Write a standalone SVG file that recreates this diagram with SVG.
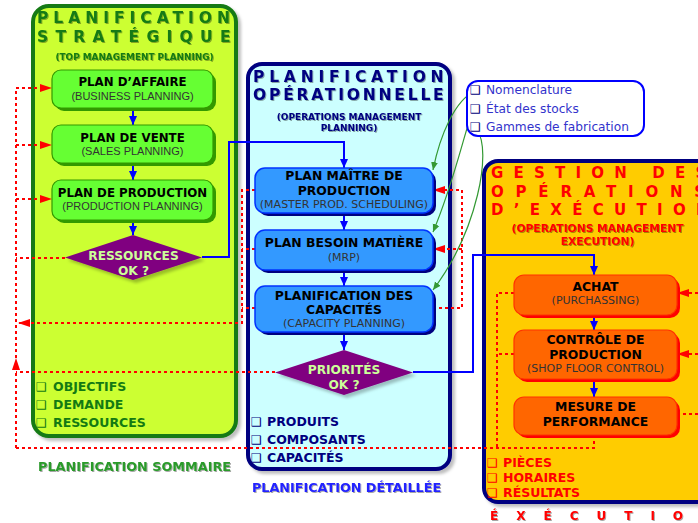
<svg xmlns="http://www.w3.org/2000/svg" width="698" height="523" viewBox="0 0 698 523">
<defs>
<style>
text{font-family:"DejaVu Sans",Verdana,sans-serif}
.b{font-weight:bold}
.t1{font-size:11.8px;font-weight:bold;fill:#000;text-anchor:middle}
.t2{font-size:12.4px;font-weight:bold;fill:#000;text-anchor:middle}
.s{font-size:11px;fill:#333;text-anchor:middle}
.sa{font-family:"Liberation Sans",Arial,sans-serif}
.gbox{fill:#66ff33;stroke:#339900;stroke-width:1.2}
.gsh{fill:#339900}
.bbox{fill:#3399ff;stroke:#0033ff;stroke-width:1.5}
.bsh{fill:#000080}
.obox{fill:#ff6600;stroke:#ff3300;stroke-width:1.2}
.osh{fill:#ff0000}
.dia{fill:#800080}
.dt{font-size:12.2px;font-weight:bold;fill:#ccff99;text-anchor:middle}
.blue{fill:none;stroke:#0000ff;stroke-width:2}
.red{fill:none;stroke:#ff0000;stroke-width:2;stroke-dasharray:3 3}
.grn{fill:none;stroke:#339933;stroke-width:1.2}
.bul{font-size:12.5px;font-weight:bold}
.ck{font-size:12px;font-weight:normal}
</style>
<filter id="psh" x="-5%" y="-5%" width="115%" height="115%"><feDropShadow dx="3" dy="3" stdDeviation="1.5" flood-color="#000" flood-opacity="0.25"/></filter>
<filter id="tsh" x="-5%" y="-20%" width="110%" height="150%"><feDropShadow dx="1" dy="1" stdDeviation="0.7" flood-color="#000" flood-opacity="0.35"/></filter>
<marker id="ab" markerUnits="userSpaceOnUse" markerWidth="10" markerHeight="10" refX="9" refY="5" orient="auto"><path d="M0,1 L9,5 L0,9 z" fill="#0000ff"/></marker>
<marker id="ar" markerUnits="userSpaceOnUse" markerWidth="13" markerHeight="10" refX="12" refY="5" orient="auto"><path d="M0,1 L12,5 L0,9 z" fill="#ff0000"/></marker>
<marker id="ag" markerUnits="userSpaceOnUse" markerWidth="9" markerHeight="8" refX="8" refY="4" orient="auto"><path d="M0,0.5 L8,4 L0,7.5 z" fill="#339933"/></marker>
</defs>
<rect width="698" height="523" fill="#ffffff"/>

<g id="panel-strategique">
<rect x="33" y="6" width="203" height="430" rx="16" fill="#ccff33" stroke="#137a13" stroke-width="4" filter="url(#psh)"/>
<g filter="url(#tsh)" class="b" fill="#137a13">
<text x="37" y="23" font-size="15.5" letter-spacing="5">PLANIFICATION</text>
<text x="37" y="42" font-size="15.5" letter-spacing="7.3">STRATÉGIQUE</text>
<text x="134.5" y="60" font-size="8.9" text-anchor="middle">(TOP MANAGEMENT PLANNING)</text>
</g>
<g class="bul" fill="#137a13">
<text x="36" y="391"><tspan class="ck">❑</tspan><tspan x="53">OBJECTIFS</tspan></text>
<text x="36" y="409"><tspan class="ck">❑</tspan><tspan x="53">DEMANDE</tspan></text>
<text x="36" y="427"><tspan class="ck">❑</tspan><tspan x="53">RESSOURCES</tspan></text>
</g>
</g>

<g id="panel-operationnelle">
<rect x="248" y="64" width="202" height="405" rx="14" fill="#ccffff" stroke="#000080" stroke-width="4" filter="url(#psh)"/>
<g filter="url(#tsh)" class="b" fill="#000080">
<text x="253" y="82" font-size="15.5" letter-spacing="4.8">PLANIFICATION</text>
<text x="253" y="100" font-size="15.5" letter-spacing="2.8">OPÉRATIONNELLE</text>
<text x="349" y="119.5" font-size="9" text-anchor="middle">(OPERATIONS MANAGEMENT</text>
<text x="349" y="130.5" font-size="9" text-anchor="middle">PLANNING)</text>
</g>
<g class="bul" fill="#000080">
<text x="251" y="426"><tspan class="ck">❑</tspan><tspan x="267">PRODUITS</tspan></text>
<text x="251" y="444"><tspan class="ck">❑</tspan><tspan x="267">COMPOSANTS</tspan></text>
<text x="251" y="462"><tspan class="ck">❑</tspan><tspan x="267">CAPACITÉS</tspan></text>
</g>
</g>

<g id="panel-execution">
<rect x="484" y="161" width="240" height="341" rx="14" fill="#ffcc00" stroke="#000080" stroke-width="4" filter="url(#psh)"/>
<g class="b" fill="#ff0000" font-size="15">
<text x="491" y="178" letter-spacing="10.2">GESTION DES</text>
<text x="491" y="197" letter-spacing="11.8">OPÉRATIONS</text>
<text x="491" y="215" letter-spacing="10.3">D’EXÉCUTION</text>
</g>
<g class="b" fill="#ff0000" filter="url(#tsh)">
<text x="597.5" y="232" font-size="10.7" text-anchor="middle">(OPERATIONS MANAGEMENT</text>
<text x="597.5" y="244.5" font-size="10.7" text-anchor="middle">EXECUTION)</text>
</g>
<g class="bul" fill="#ff0000">
<text x="487" y="467"><tspan class="ck">❑</tspan><tspan x="503">PIÈCES</tspan></text>
<text x="487" y="482"><tspan class="ck">❑</tspan><tspan x="503">HORAIRES</tspan></text>
<text x="487" y="496.5"><tspan class="ck">❑</tspan><tspan x="503">RÉSULTATS</tspan></text>
</g>
</g>

<g id="connectors">
<path class="red" d="M16,448 V358" marker-end="url(#ar)"/>
<path class="red" d="M16,358 V88"/>
<path class="red" d="M16,88 H52" marker-end="url(#ar)"/>
<path class="red" d="M16,145 H52" marker-end="url(#ar)"/>
<path class="red" d="M16,199 H52" marker-end="url(#ar)"/>
<path class="red" d="M65,258 H16"/>
<path class="red" d="M255,190 H242 V323 H18" marker-end="url(#ar)"/>
<path class="red" d="M255,249 H242"/>
<path class="red" d="M255,308 H242"/>
<path class="red" d="M275,372 H16"/>
<path class="red" d="M594,435 V448 H16"/>
<path class="red" d="M433,308 H462 V190 H433" marker-end="url(#ar)"/>
<path class="red" d="M462,249 H433" marker-end="url(#ar)"/>
<path class="red" d="M514,293 H497 V448"/>
<path class="red" d="M514,354 H497"/>
<path class="red" d="M698,293 H677" marker-end="url(#ar)"/>
<path class="red" d="M698,354 H677" marker-end="url(#ar)"/>
<path class="red" d="M677,414 H698"/>
<path class="blue" d="M202,257 H229 V142 H344 V168" marker-end="url(#ab)"/>
<path class="blue" d="M413,372 H473 V255 H594 V275" marker-end="url(#ab)"/>
<path class="blue" d="M133,108 V125" marker-end="url(#ab)"/>
<path class="blue" d="M133,163 V180" marker-end="url(#ab)"/>
<path class="blue" d="M133,220 V235" marker-end="url(#ab)"/>
<path class="blue" d="M344,213 V230" marker-end="url(#ab)"/>
<path class="blue" d="M344,270 V286" marker-end="url(#ab)"/>
<path class="blue" d="M344,332 V350" marker-end="url(#ab)"/>
<path class="blue" d="M594,315 V330" marker-end="url(#ab)"/>
<path class="blue" d="M594,379 V397" marker-end="url(#ab)"/>
<path class="grn" d="M475,91 C455,100 440,135 433,170" marker-end="url(#ag)"/>
<path class="grn" d="M474,108 C466,125 455,180 433,232" marker-end="url(#ag)"/>
<path class="grn" d="M477,130 C492,150 478,230 433,290" marker-end="url(#ag)"/>
</g>

<g id="plan-affaire">
<rect class="gsh" x="55" y="73" width="161" height="38" rx="9"/>
<rect class="gbox" x="52" y="70" width="161" height="38" rx="9"/>
<text class="t1" x="132.5" y="86">PLAN D’AFFAIRE</text>
<text class="s sa" x="132.5" y="99.5">(BUSINESS PLANNING)</text>
</g>
<g id="plan-vente">
<rect class="gsh" x="55" y="128" width="161" height="38" rx="9"/>
<rect class="gbox" x="52" y="125" width="161" height="38" rx="9"/>
<text class="t1" x="132.5" y="141.5">PLAN DE VENTE</text>
<text class="s sa" x="132.5" y="154.5">(SALES PLANNING)</text>
</g>
<g id="plan-production">
<rect class="gsh" x="55" y="183" width="161" height="40" rx="9"/>
<rect class="gbox" x="52" y="180" width="161" height="40" rx="9"/>
<text class="t1" x="132.5" y="196.5">PLAN DE PRODUCTION</text>
<text class="s sa" x="132.5" y="209.5">(PRODUCTION PLANNING)</text>
</g>
<g id="ressources-ok">
<path class="dia" d="M133,235 L202,257.5 L133,280 L65,257.5 z" filter="url(#psh)"/>
<text class="dt" x="133.5" y="259.5">RESSOURCES</text>
<text class="dt" x="133.5" y="274.5">OK ?</text>
</g>

<g id="plan-maitre">
<rect class="bsh" x="258" y="171" width="178" height="45" rx="10"/>
<rect class="bbox" x="255" y="168" width="178" height="45" rx="10"/>
<text class="t2" x="344" y="180">PLAN MAÎTRE DE</text>
<text class="t2" x="344" y="195">PRODUCTION</text>
<text class="s" x="344" y="208" fill="#1a1a55">(MASTER PROD. SCHEDULING)</text>
</g>
<g id="plan-besoin">
<rect class="bsh" x="258" y="233" width="178" height="40" rx="10"/>
<rect class="bbox" x="255" y="230" width="178" height="40" rx="10"/>
<text class="t2" x="344" y="247">PLAN BESOIN MATIÈRE</text>
<text class="s" x="344" y="261" fill="#1a1a55">(MRP)</text>
</g>
<g id="planif-capacites">
<rect class="bsh" x="258" y="289" width="178" height="46" rx="10"/>
<rect class="bbox" x="255" y="286" width="178" height="46" rx="10"/>
<text class="t2" x="344" y="299.5">PLANIFICATION DES</text>
<text class="t2" x="344" y="313.5">CAPACITÉS</text>
<text class="s" x="344" y="327" fill="#1a1a55">(CAPACITY PLANNING)</text>
</g>
<g id="priorites-ok">
<path class="dia" d="M344,350 L413,372.5 L344,395 L275,372.5 z" filter="url(#psh)"/>
<text class="dt" x="344" y="374">PRIORITÉS</text>
<text class="dt" x="344" y="389">OK ?</text>
</g>

<g id="donnees">
<rect x="467" y="81" width="177" height="55" rx="11" fill="#ffffff" stroke="#0000ff" stroke-width="2"/>
<g fill="#3333cc" font-size="12.2">
<text x="470" y="94"><tspan font-size="12" fill="#000080">❑</tspan><tspan x="486">Nomenclature</tspan></text>
<text x="470" y="112.5"><tspan font-size="12" fill="#000080">❑</tspan><tspan x="486">État des stocks</tspan></text>
<text x="470" y="131"><tspan font-size="12" fill="#000080">❑</tspan><tspan x="486">Gammes de fabrication</tspan></text>
</g>
</g>

<g id="achat">
<rect class="osh" x="517" y="278" width="163" height="40" rx="10"/>
<rect class="obox" x="514" y="275" width="163" height="40" rx="10"/>
<text class="t2" x="595.5" y="291">ACHAT</text>
<text class="s" x="595.5" y="304">(PURCHASSING)</text>
</g>
<g id="controle-production">
<rect class="osh" x="517" y="333" width="163" height="49" rx="10"/>
<rect class="obox" x="514" y="330" width="163" height="49" rx="10"/>
<text class="t2" x="595.5" y="344">CONTRÔLE DE</text>
<text class="t2" x="595.5" y="359">PRODUCTION</text>
<text class="s" x="595.5" y="372">(SHOP FLOOR CONTROL)</text>
</g>
<g id="mesure-performance">
<rect class="osh" x="517" y="400" width="163" height="38" rx="10"/>
<rect class="obox" x="514" y="397" width="163" height="38" rx="10"/>
<text class="t2" x="595.5" y="411">MESURE DE</text>
<text class="t2" x="595.5" y="426">PERFORMANCE</text>
</g>

<g id="labels" class="b" filter="url(#tsh)">
<text x="38" y="471" font-size="12.8" fill="#2a9a2a">PLANIFICATION SOMMAIRE</text>
<text x="252" y="492" font-size="12.75" fill="#2222ff">PLANIFICATION DÉTAILLÉE</text>
<text x="490" y="520" font-size="12" fill="#ff0000" letter-spacing="18">ÉXÉCUTION</text>
</g>
</svg>
